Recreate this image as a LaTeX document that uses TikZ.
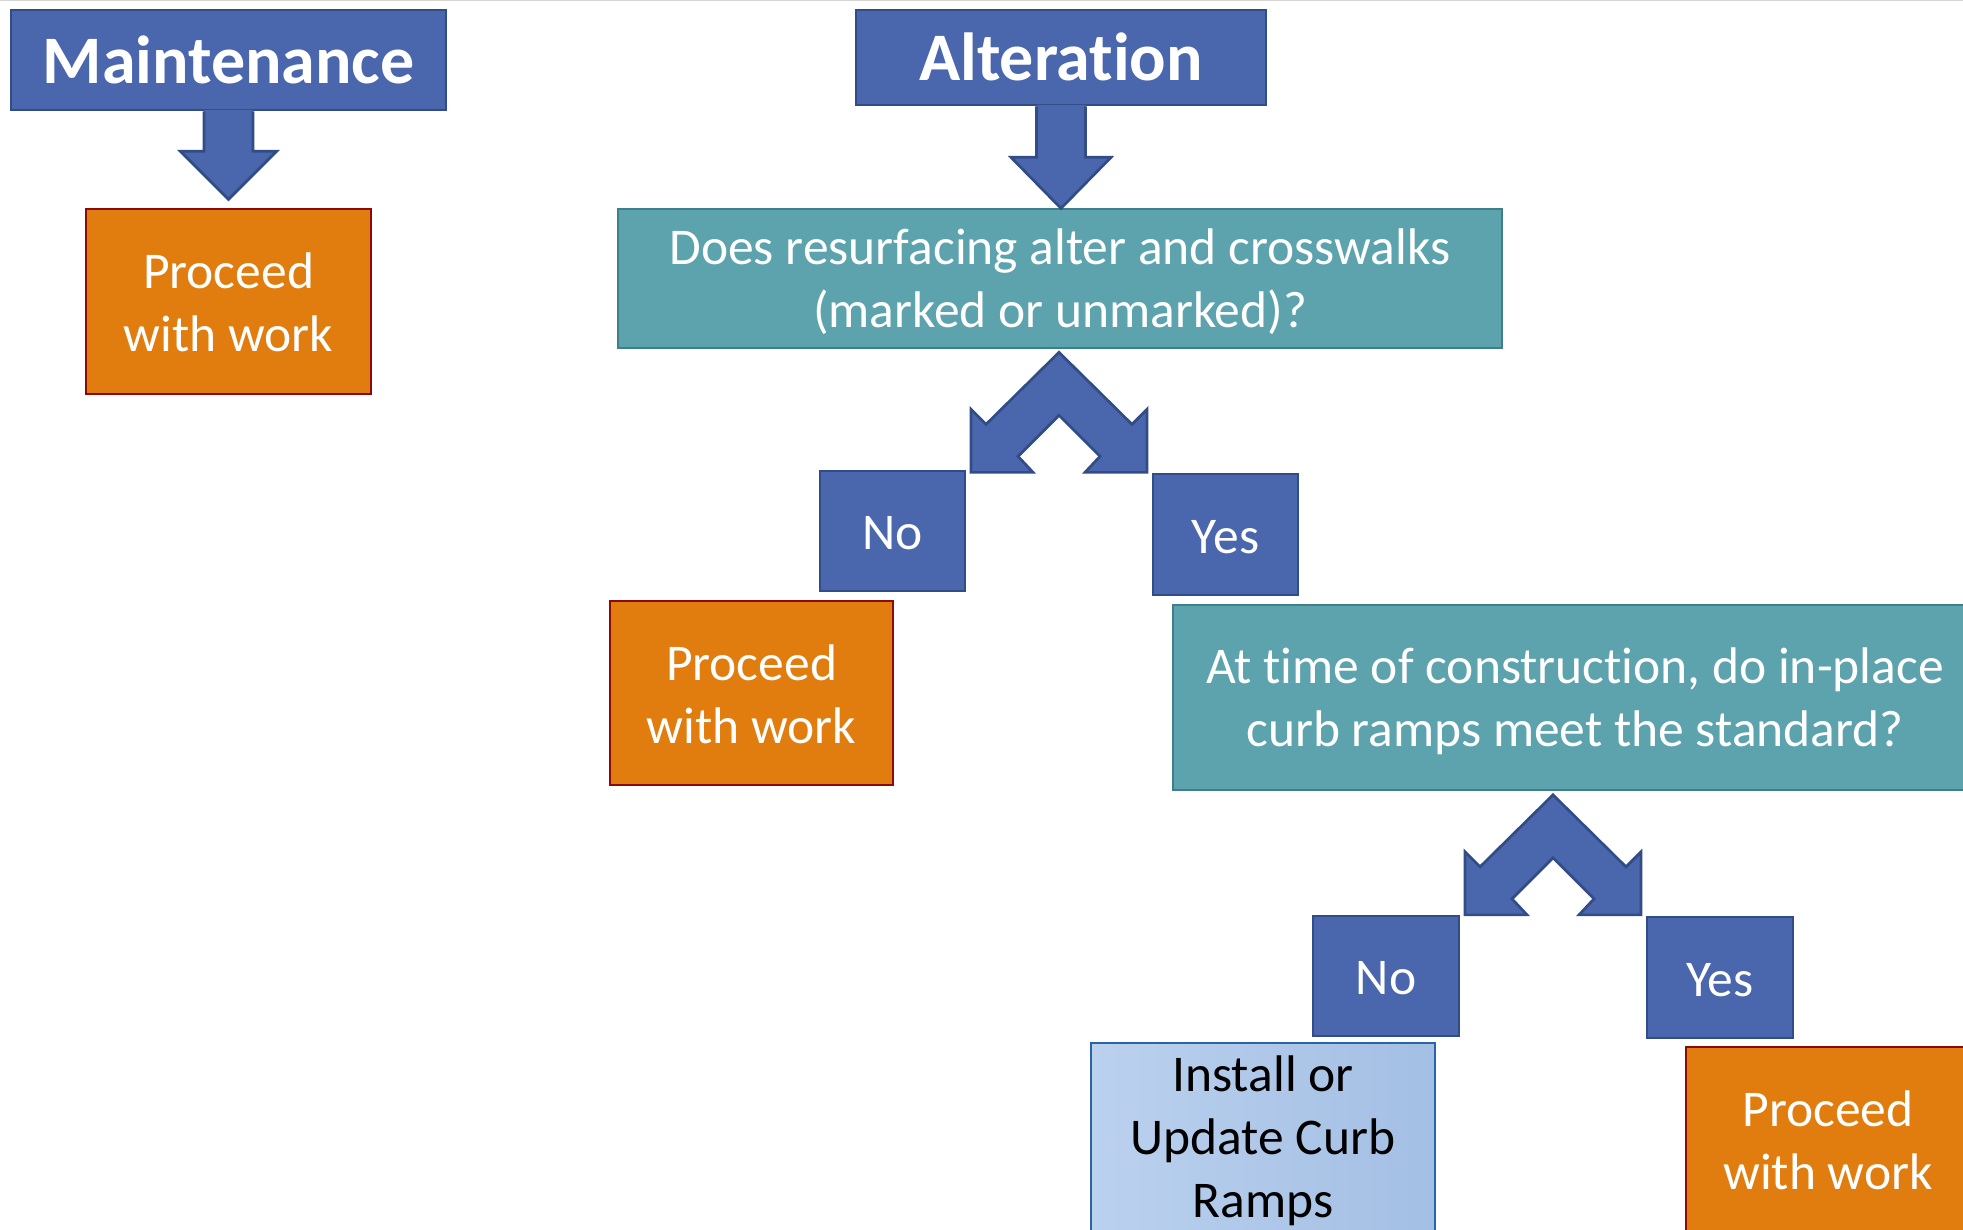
\documentclass[tikz,border=0pt]{standalone}
\usepackage{fontspec}
\setmainfont{Carlito}[Ligatures={NoCommon,NoContextual}]
\usetikzlibrary{calc}
\definecolor{bluefill}{HTML}{4A67AD}
\definecolor{blueline}{HTML}{324C87}
\definecolor{orangefill}{HTML}{E17C0E}
\definecolor{orangeline}{HTML}{8C0A05}
\definecolor{tealfill}{HTML}{5CA3AE}
\definecolor{tealline}{HTML}{3F7F89}
\definecolor{lightA}{HTML}{BBD1EE}
\definecolor{lightB}{HTML}{A3BFE4}
\definecolor{installline}{HTML}{2A63A8}
\definecolor{topline}{HTML}{D4D4D4}
\newcommand\lnstrut{\rule[-0.1em]{0pt}{0.93em}}
\newcommand\ttlstrut{\rule[-0.1em]{0pt}{0.88em}}
\newcommand\nolig{\kern0pt\relax}
\tikzset{
  boxbase/.style={draw, line width=2.7pt, inner sep=0pt, align=center,
    font=\fontsize{51.5}{63}\selectfont, text=white},
  titlebox/.style={boxbase, fill=bluefill, draw=blueline,
    font=\fontsize{68}{80}\selectfont\bfseries},
  answerbox/.style={boxbase, fill=bluefill, draw=blueline},
  proceedbox/.style={boxbase, fill=orangefill, draw=orangeline},
  questionbox/.style={boxbase, fill=tealfill, draw=tealline},
  installbox/.style={boxbase, left color=lightA, right color=lightB, draw=installline, text=black},
  arrowfill/.style={fill=bluefill},
  arrowline/.style={draw=blueline, line width=2.7pt, line join=miter},
  splitarrow/.pic={
    \filldraw[fill=bluefill, draw=blueline, line width=2.7pt, line join=miter]
      (0,0) -- (-73,72) -- (-88,57) -- (-88,120) -- (-26,120) -- (-41,104) -- (0,63)
      -- (41,104) -- (26,120) -- (88,120) -- (88,57) -- (73,72) -- cycle;
  }
}
\begin{document}
\begin{tikzpicture}[x=1pt,y=-1pt]
\clip (0,0) rectangle (1963,1230);
\fill[white] (0,0) rectangle (1963,1230);
\draw[topline, line width=3pt] (0,0) -- (1963,0);

% nodes
\node[titlebox, minimum width=435pt, minimum height=100pt] (maint) at (228.5,60) {Maintenance\ttlstrut};
\node[proceedbox, minimum width=285pt, minimum height=185pt] (proc1) at (228.5,301.5) {Proceed\lnstrut\\with work\lnstrut};
\node[titlebox, minimum width=410pt, minimum height=95pt] (alt) at (1061,57.5) {Alterat\nolig ion\ttlstrut};
\node[questionbox, minimum width=884pt, minimum height=139pt] (q1) at (1060,278.5) {Does resurfacing alter and crosswalks\lnstrut\\(marked or unmarked)?\lnstrut};
\node[answerbox, minimum width=145pt, minimum height=120pt] (no1) at (892.5,531) {No\lnstrut};
\node[answerbox, minimum width=145pt, minimum height=121pt] (yes1) at (1225.5,534.5) {Yes\lnstrut};
\node[proceedbox, minimum width=283pt, minimum height=184pt] (proc2) at (751.5,693) {Proceed\lnstrut\\with work\lnstrut};
\node[questionbox, minimum width=804pt, minimum height=185pt] (q2) at (1575,697.5) {At t\nolig ime of construct\nolig ion, do in-place\lnstrut\\curb ramps meet the standard?\lnstrut};
\node[answerbox, minimum width=146pt, minimum height=120pt] (no2) at (1386,976) {No\lnstrut};
\node[answerbox, minimum width=146pt, minimum height=121pt] (yes2) at (1720,977.5) {Yes\lnstrut};
\node[installbox, minimum width=344pt, minimum height=189pt] (install) at (1263,1137.5) {Install or\lnstrut\\Update Curb\lnstrut\\Ramps\lnstrut};
\node[proceedbox, minimum width=284pt, minimum height=185pt] (proc3) at (1828,1139.5) {Proceed\lnstrut\\with work\lnstrut};

% down arrow: Maintenance -> Proceed
\begin{scope}[shift={(maint.south)}]
  \fill[arrowfill] (-24.5,-1.5) -- (-24.5,40) -- (-48,40) -- (0,88) -- (48,40) -- (24.5,40) -- (24.5,-1.5) -- cycle;
  \draw[arrowline] (-24.5,0) -- (-24.5,40) -- (-48,40) -- (0,88) -- (48,40) -- (24.5,40) -- (24.5,0);
\end{scope}

% down arrow: Alteration -> question 1
\begin{scope}[shift={(alt.south)}]
  \fill[arrowfill] (-24.5,-1.5) -- (-24.5,51) -- (-50,51) -- (0,102) -- (50,51) -- (24.5,51) -- (24.5,-1.5) -- cycle;
  \draw[arrowline] (-24.5,0) -- (-24.5,51) -- (-50,51) -- (0,102) -- (50,51) -- (24.5,51) -- (24.5,0);
\end{scope}

% split arrows
\coordinate (s1) at ($(no1.north)!0.5!(yes1.north)$);
\pic at ($(s1 |- q1.south)+(0,3)$) {splitarrow};
\coordinate (s2) at ($(no2.north)!0.5!(yes2.north)$);
\pic at ($(s2 |- q2.south)+(0,3.5)$) {splitarrow};
\end{tikzpicture}
\end{document}
